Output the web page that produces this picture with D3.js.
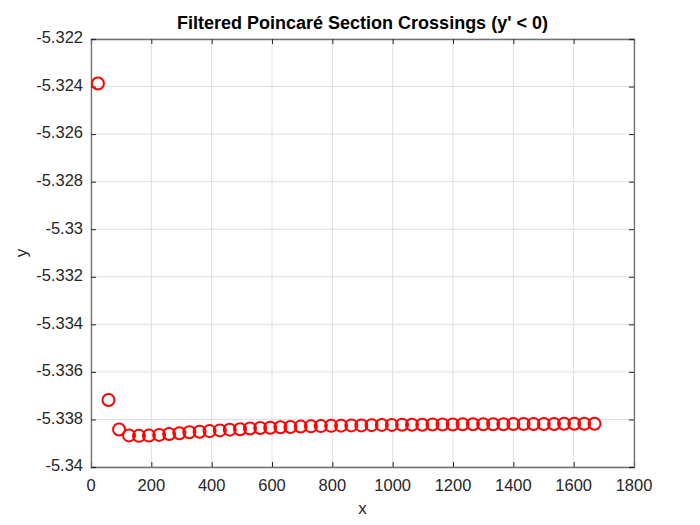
<!DOCTYPE html>
<html>
<head>
<meta charset="utf-8">
<script src="https://cdn.jsdelivr.net/npm/d3@7"></script>
<style>
body { margin: 0; background: #fff; }
text { font-family: "Liberation Sans", Arial, Helvetica, sans-serif; }
</style>
</head>
<body>
<div id="root"></div>
<script>
var width = 700;
var height = 525;

// crossing positions
var crossX = [23, 58, 93, 126, 159, 192, 226, 259, 293, 326,
	360, 393, 427, 460, 494, 527, 561, 594, 628, 661,
	695, 729, 762, 796, 829, 863, 896, 930, 964, 997,
	1031, 1064, 1098, 1132, 1165, 1199, 1232, 1266, 1300, 1333,
	1367, 1400, 1434, 1467, 1501, 1535, 1568, 1602, 1635, 1669];
var crossY = [-5.32387, -5.33718, -5.33842, -5.33867, -5.33869, -5.33868, -5.33865, -5.33861, -5.33858, -5.33854,
	-5.33852, -5.33849, -5.33846, -5.33843, -5.33841, -5.33838, -5.33836, -5.33835, -5.33833, -5.33832,
	-5.33830, -5.33829, -5.33828, -5.33827, -5.33826, -5.33825, -5.33825, -5.33824, -5.33823, -5.33823,
	-5.33822, -5.33822, -5.33822, -5.33821, -5.33821, -5.33821, -5.33820, -5.33820, -5.33820, -5.33820,
	-5.33820, -5.33819, -5.33819, -5.33819, -5.33819, -5.33819, -5.33818, -5.33818, -5.33818, -5.33818];

var xTicks = [0, 200, 400, 600, 800, 1000, 1200, 1400, 1600, 1800];
var yTicks = [-5.322, -5.324, -5.326, -5.328, -5.33, -5.332, -5.334, -5.336, -5.338, -5.34];

var titleText = "Filtered Poincaré Section Crossings (y' < 0)";

var margin = {left: 91, top: 39, right: 66, bottom: 58};
var plotW = width - margin.left - margin.right;
var plotH = height - margin.top - margin.bottom;

var svg =
d3.select("#root")
.append("svg")
.attr("width", width)
.attr("height", height)
.attr("style", "background-color: white;");

var x = d3.scaleLinear()
.domain([0, 1800])
.range([0, plotW]);

var y = d3.scaleLinear()
.domain([-5.34, -5.322])
.range([plotH, 0]);

var fmt = function(d) { return String(+d.toFixed(3)); };

var g = svg.append("g")
.attr("transform", "translate(" + margin.left + "," + margin.top + ")");

/* grid lines */
g.append("g")
.selectAll("line")
.data(xTicks)
.enter()
.append("line")
.attr("x1", function(d) { return x(d); })
.attr("x2", function(d) { return x(d); })
.attr("y1", 0)
.attr("y2", plotH)
.attr("stroke", "#dfdfdf")
.attr("stroke-width", 1);

g.append("g")
.selectAll("line")
.data(yTicks)
.enter()
.append("line")
.attr("x1", 0)
.attr("x2", plotW)
.attr("y1", function(d) { return y(d); })
.attr("y2", function(d) { return y(d); })
.attr("stroke", "#dfdfdf")
.attr("stroke-width", 1);

/* axes, ticks pointing inward like matlab */
var tickLen = 5;

var xAxisB = g.append("g")
.attr("transform", "translate(0," + plotH + ")")
.call(d3.axisTop(x).tickValues(xTicks).tickSize(tickLen).tickFormat(""));

var xAxisT = g.append("g")
.call(d3.axisBottom(x).tickValues(xTicks).tickSize(tickLen).tickFormat(""));

var yAxisL = g.append("g")
.call(d3.axisRight(y).tickValues(yTicks).tickSize(tickLen).tickFormat(""));

var yAxisR = g.append("g")
.attr("transform", "translate(" + plotW + ",0)")
.call(d3.axisLeft(y).tickValues(yTicks).tickSize(tickLen).tickFormat(""));

[xAxisB, xAxisT, yAxisL, yAxisR].forEach(function(a) {
	a.select(".domain").attr("stroke", "#707070").attr("stroke-width", 1.3);
	a.selectAll(".tick line").attr("stroke", "#262626").attr("stroke-width", 1);
});

/* tick labels */
g.append("g")
.selectAll("text")
.data(xTicks)
.enter()
.append("text")
.attr("x", function(d) { return x(d); })
.attr("y", plotH + 20)
.attr("text-anchor", "middle")
.attr("dominant-baseline", "middle")
.attr("font-size", "16.5px")
.attr("fill", "#262626")
.text(fmt);

g.append("g")
.selectAll("text")
.data(yTicks)
.enter()
.append("text")
.attr("x", -8)
.attr("y", function(d) { return y(d); })
.attr("text-anchor", "end")
.attr("dominant-baseline", "middle")
.attr("font-size", "16.5px")
.attr("fill", "#262626")
.text(fmt);

/* axis labels and title */
svg.append("text")
.attr("x", margin.left + plotW / 2)
.attr("y", 510)
.attr("text-anchor", "middle")
.attr("dominant-baseline", "middle")
.attr("font-size", "17px")
.attr("fill", "#262626")
.text("x");

svg.append("text")
.attr("transform", "translate(23," + (margin.top + plotH / 2) + ") rotate(-90)")
.attr("text-anchor", "middle")
.attr("dominant-baseline", "middle")
.attr("font-size", "17px")
.attr("fill", "#262626")
.text("y");

svg.append("text")
.attr("x", margin.left + plotW / 2)
.attr("y", 24)
.attr("text-anchor", "middle")
.attr("dominant-baseline", "middle")
.attr("font-size", "18px")
.attr("font-weight", "bold")
.attr("fill", "#000")
.text(titleText);

/* crossing markers */
g.append("g")
.selectAll("circle")
.data(d3.zip(crossX, crossY))
.enter()
.append("circle")
.attr("cx", function(d) { return x(d[0]); })
.attr("cy", function(d) { return y(d[1]); })
.attr("r", 6)
.attr("fill", "none")
.attr("stroke", "#ff0000")
.attr("stroke-width", 2);
</script>
</body>
</html>
